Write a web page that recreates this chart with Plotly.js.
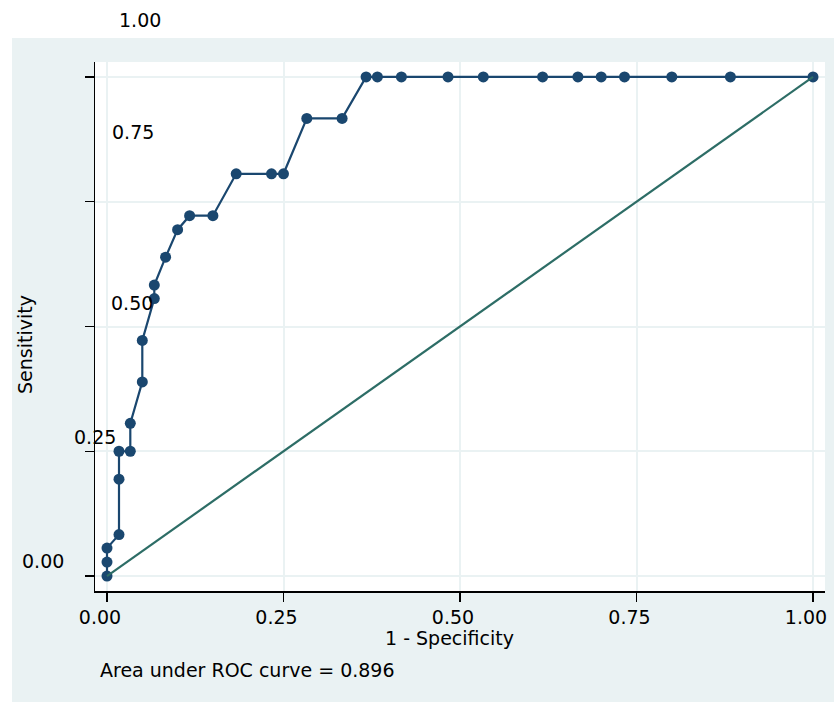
<!DOCTYPE html>
<html>
<head>
<meta charset="utf-8">
<script src="https://cdn.plot.ly/plotly-3.0.1.min.js"></script>
<style>html,body{margin:0;padding:0;background:#fff;}#chart{width:834px;height:702px;}</style>
</head>
<body>
<div id="chart"></div>
<script>
// ROC curve points (1 - specificity, sensitivity)
const fpr = [0, 0, 0, 0.017, 0.017, 0.017, 0.033, 0.033, 0.050, 0.050, 0.067, 0.067, 0.083, 0.100, 0.117, 0.150, 0.183, 0.233, 0.250, 0.283, 0.333,
             0.367, 0.383, 0.417, 0.483, 0.533, 0.617, 0.667, 0.700, 0.733, 0.800, 0.883, 1.000];
const sens = [0, 0.028, 0.056, 0.083, 0.194, 0.250, 0.250, 0.306, 0.389, 0.472, 0.556, 0.583, 0.639, 0.694, 0.722, 0.722, 0.806, 0.806, 0.806, 0.917, 0.917,
              1, 1, 1, 1, 1, 1, 1, 1, 1, 1, 1, 1];
// reference (chance) line
const refX = [0, 1];
const refY = [0, 1];
// ticks
const tickVals = [0, 0.25, 0.5, 0.75, 1];
const tickText = ['0.00', '0.25', '0.50', '0.75', '1.00'];
const xTitle = '1 - Specificity';
const yTitle = 'Sensitivity';
const note = 'Area under ROC curve = 0.896';

const W = 834, H = 702;
const L = 95, R = 9, T = 62, B = 111;
const pw = W - L - R, ph = H - T - B;
function px(x) { return (x - L) / pw; }
function py(y) { return (H - B - y) / ph; }

const font = {family: 'DejaVu Sans, Verdana, sans-serif', size: 19, color: '#000'};
const navy = '#1a476f';
const teal = '#2d6d66';
const grid = '#eaf2f3';

const traces = [
  {x: fpr, y: sens, type: 'scatter', mode: 'lines+markers',
   line: {color: navy, width: 2.2}, marker: {color: navy, size: 11}, hoverinfo: 'x+y', showlegend: false},
  {x: refX, y: refY, type: 'scatter', mode: 'lines',
   line: {color: teal, width: 2.2}, hoverinfo: 'skip', showlegend: false}
];

// misplaced y tick labels, as in the reference
const yLabelPos = [[43, 561], [95, 437], [132, 303], [133, 132], [140, 20]];
const annotations = yLabelPos.map((p, i) => ({
  text: tickText[i], xref: 'paper', yref: 'paper', x: px(p[0]), y: py(p[1]),
  xanchor: 'center', yanchor: 'middle', showarrow: false, font: font
}));
annotations.push({text: xTitle, xref: 'paper', yref: 'paper', x: px(449), y: py(638),
  xanchor: 'center', yanchor: 'middle', showarrow: false, font: font});
annotations.push({text: yTitle, xref: 'paper', yref: 'paper', x: px(25), y: py(345), textangle: -90,
  xanchor: 'center', yanchor: 'middle', showarrow: false, font: font});
annotations.push({text: note, xref: 'paper', yref: 'paper', x: px(98), y: py(670),
  xanchor: 'left', yanchor: 'middle', showarrow: false, font: font});

const layout = {
  width: W, height: H,
  margin: {l: L, r: R, t: T, b: B, pad: 0},
  paper_bgcolor: '#eaf2f3',
  plot_bgcolor: '#ffffff',
  font: font,
  showlegend: false,
  xaxis: {
    range: [-0.017, 1.017], tickvals: tickVals, ticktext: tickText,
    showgrid: true, gridcolor: grid, gridwidth: 2, zeroline: false,
    showline: true, linecolor: '#000', linewidth: 1.5,
    ticks: 'outside', ticklen: 9, tickwidth: 1.5, tickcolor: '#000',
    ticklabelshift: -7, tickfont: font
  },
  yaxis: {
    range: [-0.030, 1.030], tickvals: tickVals, ticktext: tickText,
    showticklabels: false,
    showgrid: true, gridcolor: grid, gridwidth: 2, zeroline: false,
    showline: true, linecolor: '#000', linewidth: 1.5,
    ticks: 'outside', ticklen: 9, tickwidth: 1.5, tickcolor: '#000'
  },
  shapes: [
    {type: 'rect', xref: 'paper', yref: 'paper', x0: px(0), x1: px(W), y0: py(38), y1: py(0),
     fillcolor: '#ffffff', line: {width: 0}, layer: 'below'},
    {type: 'rect', xref: 'paper', yref: 'paper', x0: px(0), x1: px(12), y0: py(H), y1: py(0),
     fillcolor: '#ffffff', line: {width: 0}, layer: 'below'}
  ],
  annotations: annotations
};

Plotly.newPlot('chart', traces, layout, {displayModeBar: false, staticPlot: true});
</script>
</body>
</html>
